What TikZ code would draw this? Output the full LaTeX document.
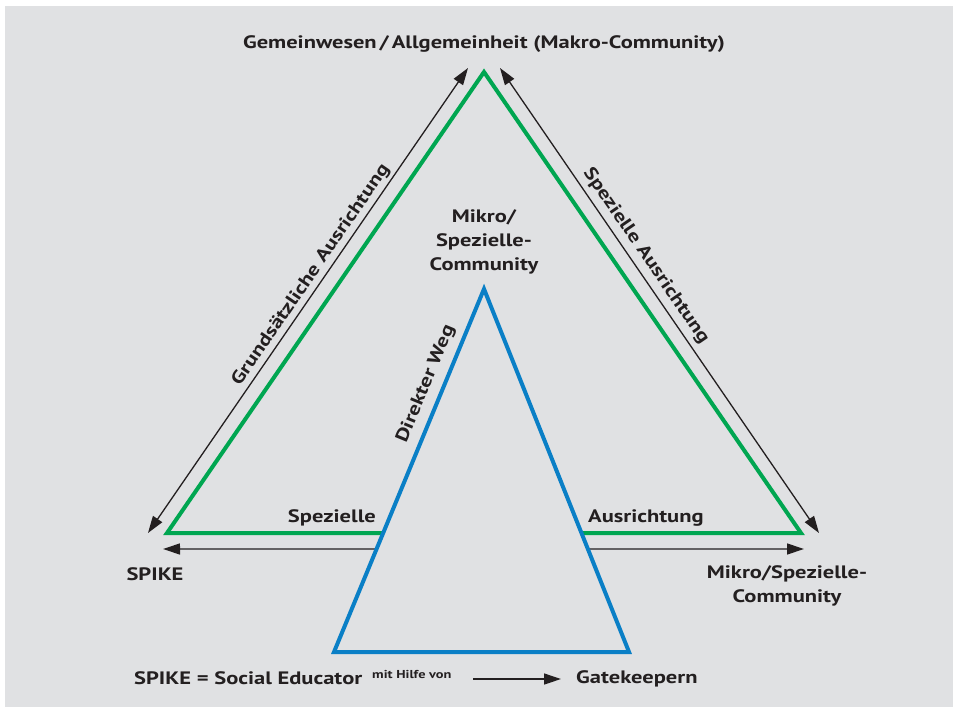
\documentclass[tikz,border=0pt]{standalone}
\usepackage{fontspec}
\setmainfont{PT Sans}[FakeStretch=1.25]
\usepackage{xcolor}
\usetikzlibrary{calc, positioning, arrows.meta}
\definecolor{bggrey}{HTML}{E0E1E3}
\definecolor{makrogreen}{HTML}{00A651}
\definecolor{mikroblue}{HTML}{0A7FC6}
\definecolor{ink}{HTML}{231F20}

\begin{document}
\begin{tikzpicture}
              [x=1pt, y=-1pt,
               lbl/.style={text=ink, font=\fontsize{18}{24}\selectfont\bfseries, inner sep=0pt, align=center},
               small/.style={text=ink, font=\fontsize{11.5}{13}\selectfont\bfseries, inner sep=0pt},
               tri/.style={line width=4pt, line join=miter},
               dir/.style={draw=ink, line width=1.3pt, -{Triangle[length=17pt,width=11pt]}},
               both/.style={dir, {Triangle[length=17pt,width=11pt]}-{Triangle[length=17pt,width=11pt]}}]
              \useasboundingbox (0,0) rectangle (954,707);
              \fill[bggrey] (5,6) rectangle (953,707);

              % corners %
              \coordinate (makro) at (484,72);
              \coordinate (spike) at (167,533);
              \coordinate (mikro) at (801,533);
              \coordinate (btop) at (484,289);
              \coordinate (bleft) at (334,652);
              \coordinate (bright) at (629,652);
              \coordinate (lup) at (468,68);
              \coordinate (ldown) at (148,533);
              \coordinate (rup) at (500,68);
              \coordinate (rdown) at (819,533);
              \coordinate (hleft) at ($(btop)!0.716!(bleft)$);
              \coordinate (hright) at ($(btop)!0.716!(bright)$);
              \coordinate (hspike) at (163,549);
              \coordinate (hmikro) at (804,549);
              \coordinate (gk) at (473,679);
              \coordinate (gkend) at (561,679);

              % nodes %
              \node[lbl] (top) at (484,44) {Gemeinwesen\,/\,Allgemeinheit (Makro-Community)};
              \node[lbl] (inner) at (484,242) {Mikro/\\Spezielle-\\Community};
              \node[lbl] (spk) at (155,574) {SPIKE};
              \node[lbl] (mik) at (787,586) {Mikro/Spezielle-\\Community};
              \node[lbl, anchor=east] (spz) at (376,518) {Spezielle};
              \node[lbl, anchor=west] (aus) at (588,518) {Ausrichtung};
              \node[lbl, rotate=55.5] (grund) at (311,275) {Grundsätzliche Ausrichtung};
              \node[lbl, rotate=-55.5] (spaus) at (646,256) {Spezielle Ausrichtung};
              \node[lbl, rotate=67.5] (weg) at (426,384) {Direkter Weg};
              \node[lbl, anchor=west] (soc) at (134,678) {SPIKE = Social Educator};
              \node[small, anchor=west] (hilfe) at (372,674) {mit Hilfe von};
              \node[lbl, anchor=west] (gate) at (576,679) {Gatekeepern};

              % edges %
              \draw[tri, makrogreen] (makro) -- (mikro) -- (spike) -- cycle;
              \draw[both] (ldown) -- (lup);
              \draw[both] (rdown) -- (rup);
              \draw[dir] (hleft) -- (hspike);
              \draw[dir] (hright) -- (hmikro);
              \draw[tri, mikroblue, fill=bggrey] (btop) -- (bright) -- (bleft) -- cycle;
              \draw[dir] (gk) -- (gkend);
            \end{tikzpicture}
\end{document}
